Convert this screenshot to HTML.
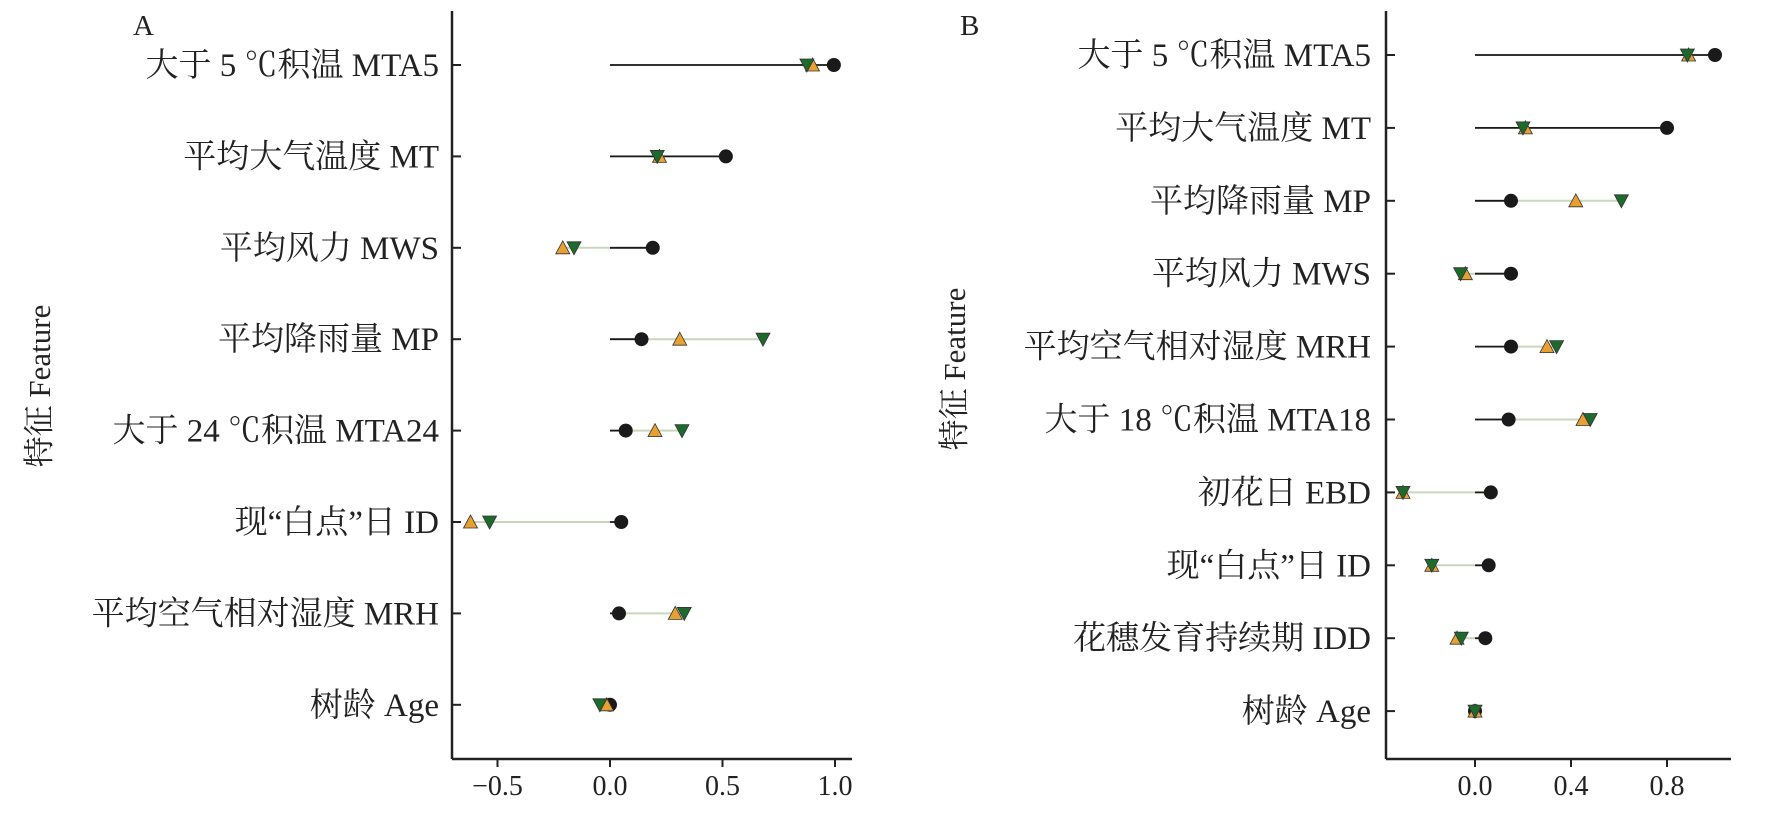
<!DOCTYPE html>
<html><head><meta charset="utf-8"><style>
html,body{margin:0;padding:0;background:#fff;}
svg{display:block;font-family:"Liberation Serif","Noto Serif CJK SC",serif;}
</style></head><body>
<svg id="c" width="1773" height="813" viewBox="0 0 1773 813"></svg>
<script>
const catsA=["大于 5 ℃积温 MTA5","平均大气温度 MT","平均风力 MWS","平均降雨量 MP","大于 24 ℃积温 MTA24","现“白点”日 ID","平均空气相对湿度 MRH","树龄 Age"];
const circA=[0.995,0.515,0.19,0.14,0.07,0.05,0.04,0.0];
const upA=[0.90,0.22,-0.21,0.31,0.20,-0.62,0.29,-0.015];
const downA=[0.875,0.21,-0.16,0.68,0.32,-0.535,0.33,-0.045];
const ticksA=[-0.5,0,0.5,1.0];
const tickLabA=["−0.5","0.0","0.5","1.0"];
const catsB=["大于 5 ℃积温 MTA5","平均大气温度 MT","平均降雨量 MP","平均风力 MWS","平均空气相对湿度 MRH","大于 18 ℃积温 MTA18","初花日 EBD","现“白点”日 ID","花穗发育持续期 IDD","树龄 Age"];
const circB=[1.0,0.80,0.15,0.15,0.15,0.14,0.066,0.057,0.043,0.0];
const upB=[0.89,0.21,0.42,-0.04,0.30,0.45,-0.30,-0.18,-0.075,0.0];
const downB=[0.885,0.20,0.61,-0.06,0.34,0.48,-0.30,-0.18,-0.057,0.0];
const ticksB=[0,0.4,0.8];
const tickLabB=["0.0","0.4","0.8"];

const svg=document.getElementById('c');
const NS="http://www.w3.org/2000/svg";
function mk(tag,attrs,parent){const e=document.createElementNS(NS,tag);for(const k in attrs)e.setAttribute(k,attrs[k]);(parent||svg).appendChild(e);return e;}

function panel(p){
  const g=mk('g',{});
  
  
  const x=v=>p.x0+v*p.unit;
  const y=i=>p.y0+i*p.step;
  const ya=mk('line',{x1:p.ax,y1:11,x2:p.ax,y2:759,stroke:'#222','stroke-width':2.5},g);
  
  
  const xa=mk('line',{x1:p.ax,y1:759,x2:p.axEnd,y2:759,stroke:'#222','stroke-width':2.5},g);
  
  
  p.ticks.forEach((t,i)=>{
    mk('line',{x1:x(t),y1:759,x2:x(t),y2:767,stroke:'#222','stroke-width':2},g);
    const tl=mk('text',{x:x(t),y:795,'font-size':28,'text-anchor':'middle',fill:'#222'},g);
    tl.textContent=p.tickLab[i];
    
    
  });
  p.cats.forEach((c,i)=>{
    const yy=y(i);
    mk('line',{x1:p.ax,y1:yy,x2:p.ax+9,y2:yy,stroke:'#222','stroke-width':2},g);
    const lab=mk('text',{x:p.labX,y:yy+11,'font-size':33,'text-anchor':'end',fill:'#222'},g);
    lab.textContent=c;
    
    
    const lo=Math.min(0,p.up[i],p.down[i],p.circ[i]),hi=Math.max(0,p.up[i],p.down[i],p.circ[i]);
    const ll=mk('line',{x1:x(lo),y1:yy,x2:x(hi),y2:yy,stroke:'#c9d6bd','stroke-width':2},g);
    
    
    const bl=mk('line',{x1:x(0),y1:yy,x2:x(p.circ[i]),y2:yy,stroke:'#1a1a1a','stroke-width':1.8},g);
    
    
    const cx=x(p.circ[i]);
    const ci=mk('circle',{cx:cx,cy:yy,r:7,fill:'#1a1a1a'},g);
    
    
    const ux=x(p.up[i]);
    const tu=mk('polygon',{points:`${ux-7},${yy+6} ${ux+7},${yy+6} ${ux},${yy-7}`,fill:'#e8a032',stroke:'#333','stroke-width':0.8},g);
    
    
    const dx=x(p.down[i]);
    const td=mk('polygon',{points:`${dx-7},${yy-6} ${dx+7},${yy-6} ${dx},${yy+7}`,fill:'#1e6a2c',stroke:'#333','stroke-width':0.8},g);
    
    
  });
  const pl=mk('text',{x:p.letX,y:35,'font-size':29,fill:'#222'},g);
  pl.textContent=p.id;
  
  
  const yt=mk('text',{x:0,y:0,'font-size':31,'text-anchor':'middle',fill:'#222',transform:`translate(${p.ytX},${p.ytY}) rotate(-90)`},g);
  yt.textContent="特征 Feature";
  
  
}
panel({id:'A',cats:catsA,circ:circA,up:upA,down:downA,ticks:ticksA,tickLab:tickLabA,
  x0:610,unit:225,y0:65,step:91.4,ax:452,axEnd:852,labX:439,letX:133,ytX:50,ytY:386});
panel({id:'B',cats:catsB,circ:circB,up:upB,down:downB,ticks:ticksB,tickLab:tickLabB,
  x0:1475,unit:240,y0:55,step:72.9,ax:1386,axEnd:1731,labX:1371,letX:960,ytX:965,ytY:369});
</script>
</body></html>
